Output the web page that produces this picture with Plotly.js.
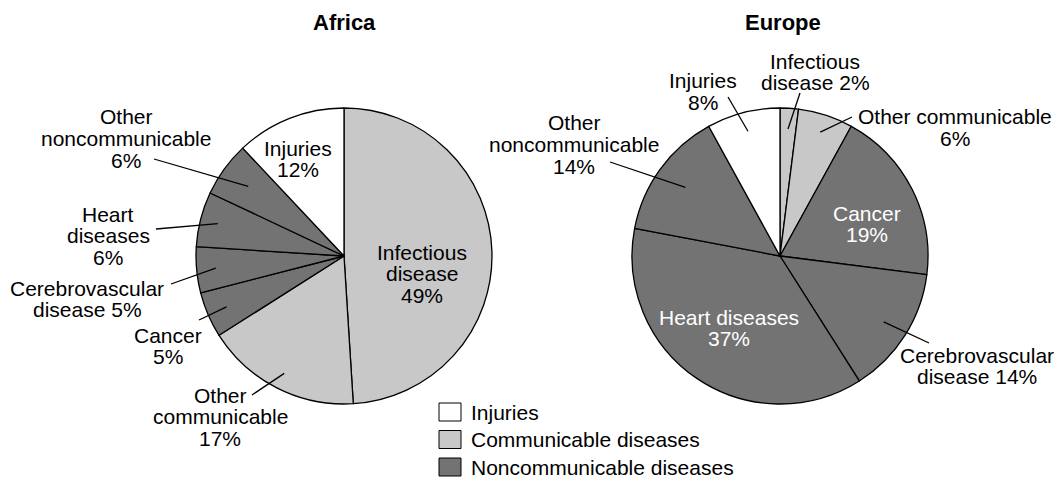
<!DOCTYPE html>
<html>
<head>
<meta charset="utf-8">
<script src="https://cdn.plot.ly/plotly-3.0.1.min.js"></script>
<style>html,body{margin:0;padding:0;background:#fff;}#chart{width:1059px;height:477px;}</style>
</head>
<body>
<div id="chart"></div>
<script>
// ---- data ----
const categories = ["Infectious disease","Other communicable","Cancer","Cerebrovascular disease","Heart diseases","Other noncommunicable","Injuries"];
const africaValues = [49,17,5,5,6,6,12];
const europeValues = [2,6,19,14,37,14,8];
const sliceGroups = ["comm","comm","noncomm","noncomm","noncomm","noncomm","inj"];
const regionTitles = ["Africa","Europe"];
const legendKeys = ["inj","comm","noncomm"];
const legendLabels = ["Injuries","Communicable diseases","Noncommunicable diseases"];

// ---- style / layout ----
const W = 1059, H = 477;
const FONT = "Liberation Sans, Arial, Helvetica, sans-serif";
const groupColors = {inj:"#ffffff", comm:"#c8c8c8", noncomm:"#737373"};
const R = 148;
const centers = [[344,256],[780,256]];
const LINE = 21.5;
const fx = x => x / W;
const fy = y => 1 - y / H;

// label placement per slice (text lines, first-line centre, leader start, tip radius fraction)
const labelLayout = [
  [ // Africa
    {lines:["Infectious","disease","{v}%"], x:422, y:252},
    {lines:["Other","communicable","{v}%"], x:220, y:395, lead:[252,395], f:0.89},
    {lines:["Cancer","{v}%"], x:168, y:335, lead:[199,320], f:0.865},
    {lines:["Cerebrovascular","disease {v}%"], x:87, y:288, lead:[171,284], f:0.87},
    {lines:["Heart","diseases","{v}%"], x:108, y:214, lead:[156,229], f:0.88},
    {lines:["Other","noncommunicable","{v}%"], x:126, y:117, lead:[154,159], f:0.8},
    {lines:["Injuries","{v}%"], x:298, y:148}
  ],
  [ // Europe
    {lines:["Infectious","disease {v}%"], x:815, y:61, lead:[800,93], f:0.86},
    {lines:["Other communicable","{v}%"], x:955, y:117, lead:[852,117], f:0.88},
    {lines:["Cancer","{v}%"], x:867, y:213, color:"#ffffff"},
    {lines:["Cerebrovascular","disease {v}%"], x:977, y:355, lead:[929,343], f:0.83},
    {lines:["Heart diseases","{v}%"], x:729, y:317, color:"#ffffff"},
    {lines:["Other","noncommunicable","{v}%"], x:574, y:123, lead:[610,162], f:0.79},
    {lines:["Injuries","{v}%"], x:703, y:81, lead:[728,97], f:0.87}
  ]
];

const allValues = [africaValues, europeValues];
const colors = sliceGroups.map(g => groupColors[g]);

const traces = allValues.map((vals, i) => {
  const [cx, cy] = centers[i];
  return {
    type: "pie",
    labels: categories,
    values: vals,
    sort: false,
    direction: "clockwise",
    rotation: 0,
    textinfo: "none",
    hoverinfo: "label+value",
    showlegend: false,
    marker: {colors: colors, line: {color: "#000000", width: 1.3}},
    domain: {x: [fx(cx - R), fx(cx + R)], y: [fy(cy + R), fy(cy - R)]}
  };
});

const annotations = [];
const shapes = [];

regionTitles.forEach((t, i) => {
  annotations.push({
    xref: "paper", yref: "paper", x: fx(centers[i][0] + (i ? 3 : 0)), y: fy(22),
    xanchor: "center", yanchor: "middle", showarrow: false,
    text: "<b>" + t + "</b>", font: {family: FONT, size: 22, color: "#000"}
  });
});

allValues.forEach((vals, i) => {
  const [cx, cy] = centers[i];
  const total = vals.reduce((a, b) => a + b, 0);
  let cum = 0;
  vals.forEach((v, k) => {
    const mid = (cum + v / 2) / total * 2 * Math.PI;
    cum += v;
    const L = labelLayout[i][k];
    L.lines.forEach((ln, j) => {
      annotations.push({
        xref: "paper", yref: "paper", x: fx(L.x), y: fy(L.y + j * LINE),
        xanchor: "center", yanchor: "middle", showarrow: false,
        text: ln.replace("{v}", v),
        font: {family: FONT, size: 21, color: L.color || "#000"}
      });
    });
    if (L.lead) {
      const tx = cx + L.f * R * Math.sin(mid);
      const ty = cy - L.f * R * Math.cos(mid);
      shapes.push({
        type: "line", xref: "paper", yref: "paper",
        x0: fx(L.lead[0]), y0: fy(L.lead[1]), x1: fx(tx), y1: fy(ty),
        line: {color: "#000", width: 1.3}
      });
    }
  });
});

// legend drawn as boxes + text
legendKeys.forEach((key, i) => {
  const y0 = 403 + i * 27.5;
  shapes.push({
    type: "rect", xref: "paper", yref: "paper",
    x0: fx(439), x1: fx(461), y0: fy(y0), y1: fy(y0 + 18),
    fillcolor: groupColors[key], line: {color: "#000", width: 1}
  });
  annotations.push({
    xref: "paper", yref: "paper", x: fx(469), y: fy(y0 + 9),
    xanchor: "left", yanchor: "middle", showarrow: false,
    text: legendLabels[i], font: {family: FONT, size: 21, color: "#000"}
  });
});

const layout = {
  width: W, height: H,
  margin: {l: 0, r: 0, t: 0, b: 0},
  paper_bgcolor: "#ffffff",
  plot_bgcolor: "#ffffff",
  showlegend: false,
  annotations: annotations,
  shapes: shapes
};

Plotly.newPlot("chart", traces, layout, {displayModeBar: false, staticPlot: true});
</script>
</body>
</html>
